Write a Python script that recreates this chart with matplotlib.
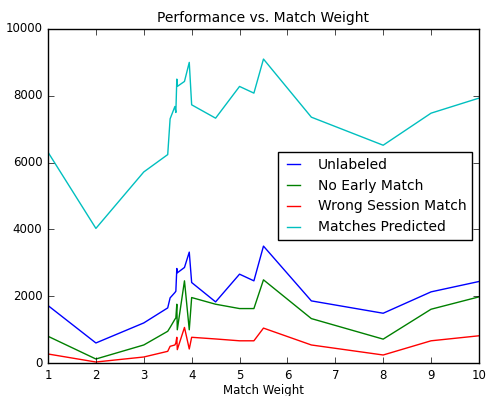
import matplotlib
matplotlib.use('Agg')
import matplotlib.pyplot as plt

# match weight values (x axis)
weights = [1, 2, 3, 3.5, 3.55, 3.65, 3.67, 3.69, 3.7, 3.85, 3.95, 4.0,
           4.5, 5.0, 5.3, 5.5, 6.5, 8, 9, 10]

unlabeled = [1720, 600, 1200, 1650, 1950, 2110, 2150, 2830, 2700, 2860, 3320, 2410,
             1830, 2660, 2460, 3500, 1860, 1490, 2130, 2440]
no_early = [800, 120, 540, 950, 1065, 1310, 1350, 1760, 995, 2460, 995, 1960,
            1760, 1630, 1630, 2490, 1330, 715, 1610, 1980]
wrong_session = [270, 30, 180, 350, 500, 540, 600, 770, 400, 1065, 420, 770,
                 720, 665, 665, 1045, 540, 240, 665, 815]
predicted = [6310, 4030, 5720, 6240, 7310, 7680, 7500, 8500, 8280, 8430, 9000, 7730,
             7330, 8280, 8080, 9100, 7360, 6520, 7480, 7930]

plt.style.use('classic')
fig = plt.figure(figsize=(4.88, 3.96), dpi=100)
ax = fig.add_axes([0.0984, 0.0833, 0.883, 0.8435])

ax.plot(weights, unlabeled, color='b', label='Unlabeled')
ax.plot(weights, no_early, color='g', label='No Early Match')
ax.plot(weights, wrong_session, color='r', label='Wrong Session Match')
ax.plot(weights, predicted, color='c', label='Matches Predicted')

ax.set_xlim(1, 10)
ax.set_ylim(0, 10000)
ax.set_xticks(range(1, 11))
ax.set_yticks(range(0, 10001, 2000))
ax.tick_params(labelsize=8.5)
ax.set_title('Performance vs. Match Weight', fontsize=10)
ax.set_xlabel('Match Weight', fontsize=8.5, labelpad=2)
ax.legend(loc='center right', fontsize=10, handlelength=1.5, handletextpad=1.0)

fig.savefig('out.png', dpi=100)
